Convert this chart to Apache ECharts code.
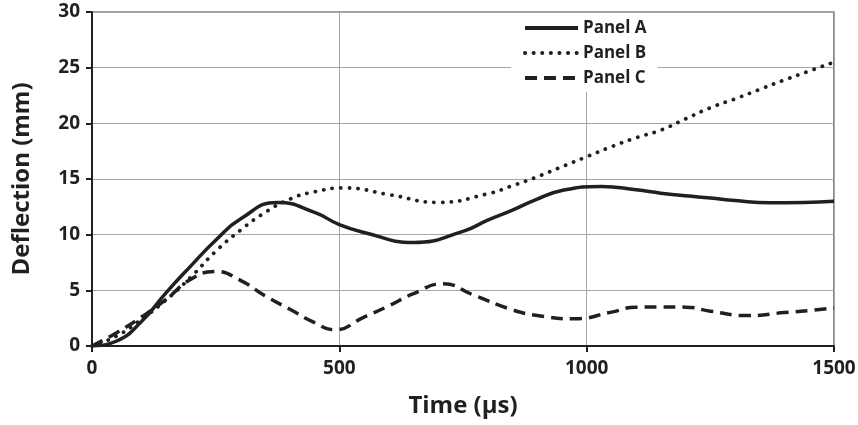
<!DOCTYPE html>
<html><head><meta charset="utf-8">
<script src="https://cdn.jsdelivr.net/npm/echarts@6/dist/echarts.min.js"></script>
<style>html,body{margin:0;padding:0;background:#fff}#c{width:858px;height:425px}</style>
</head><body><div id="c"></div>
<script>
const seriesNames = ['Panel A', 'Panel B', 'Panel C'];
const timeA  = [0, 50, 100, 150, 200, 250, 300, 375, 450, 500, 550, 650, 750, 800, 850, 900, 950, 1030, 1100, 1150, 1200, 1250, 1300, 1370, 1440, 1500];
const panelA = [0, 0.45, 2.2, 4.8, 7.2, 9.5, 11.4, 12.9, 12.0, 10.9, 10.2, 9.3, 10.3, 11.3, 12.2, 13.2, 13.97, 14.33, 14.03, 13.73, 13.49, 13.3, 13.07, 12.87, 12.9, 13.0];
const timeB  = [0, 50, 100, 150, 200, 250, 300, 350, 400, 450, 510, 600, 700, 800, 850, 900, 950, 1000, 1050, 1100, 1150, 1200, 1250, 1300, 1350, 1400, 1450, 1500];
const panelB = [0, 0.9, 2.4, 4.15, 6.2, 8.5, 10.4, 12.0, 13.2, 13.85, 14.2, 13.6, 12.9, 13.67, 14.4, 15.2, 16.1, 17.0, 17.9, 18.7, 19.4, 20.4, 21.4, 22.2, 23.05, 23.9, 24.7, 25.5];
const timeC  = [0, 50, 100, 150, 200, 250, 300, 350, 400, 450, 490, 550, 600, 650, 710, 770, 850, 900, 975, 1050, 1100, 1150, 1200, 1250, 1325, 1400, 1450, 1500];
const panelC = [0, 1.2, 2.6, 4.2, 6.0, 6.7, 5.9, 4.5, 3.3, 2.1, 1.45, 2.6, 3.6, 4.7, 5.6, 4.6, 3.25, 2.74, 2.44, 3.04, 3.49, 3.5, 3.49, 3.13, 2.73, 3.0, 3.19, 3.43];
const xTicks = [0, 500, 1000, 1500];
const yTicks = [0, 5, 10, 15, 20, 25, 30];

const pair = (t, v) => t.map((x, i) => [x, v[i]]);
const ink = '#231f20';
const font = '"Open Sans", Lato, sans-serif';
const chart = echarts.init(document.getElementById('c'), null, {renderer: 'canvas'});
chart.setOption({
  animation: false,
  backgroundColor: '#fff',
  grid: {left: 92, right: 24, top: 12, bottom: 79, show: true, borderColor: '#3a3a3a', borderWidth: 1.2, containLabel: false, outerBoundsMode: 'none'},
  xAxis: {
    type: 'value', min: xTicks[0], max: xTicks[xTicks.length - 1], interval: 500,
    name: 'Time (\u03bcs)', nameLocation: 'middle', nameGap: 48,
    nameTextStyle: {fontFamily: font, fontWeight: 'bold', fontSize: 24, color: ink},
    axisLine: {show: true, onZero: false, lineStyle: {color: ink, width: 2}},
    axisTick: {show: true, length: 6, lineStyle: {color: ink, width: 2}},
    axisLabel: {fontFamily: font, fontWeight: 'bold', fontSize: 19, color: ink, margin: 13, formatter: v => String(v)},
    splitLine: {show: true, lineStyle: {color: '#a6a6a6', width: 1}}
  },
  yAxis: {
    type: 'value', min: yTicks[0], max: yTicks[yTicks.length - 1], interval: 5,
    name: 'Deflection (mm)', nameLocation: 'middle', nameGap: 58, nameRotate: 90,
    nameTextStyle: {fontFamily: font, fontWeight: 'bold', fontSize: 24, color: ink},
    axisLine: {show: true, lineStyle: {color: ink, width: 2}},
    axisTick: {show: true, length: 6, lineStyle: {color: ink, width: 2}},
    axisLabel: {fontFamily: font, fontWeight: 'bold', fontSize: 19, color: ink, margin: 12},
    splitLine: {show: true, lineStyle: {color: '#a6a6a6', width: 1}}
  },
  legend: {
    orient: 'vertical', left: 511, top: 13, itemWidth: 53, itemHeight: 14, itemGap: 7,
    backgroundColor: '#fff', padding: [6, 11, 5, 12],
    itemStyle: {color: 'rgba(0,0,0,0)', borderWidth: 0, opacity: 0},
    lineStyle: {width: 4},
    textStyle: {fontFamily: font, fontWeight: 'bold', fontSize: 17, color: ink, lineHeight: 18},
    data: seriesNames
  },
  series: [
    {name: seriesNames[0], type: 'line', smooth: 0.5, symbol: 'none', data: pair(timeA, panelA),
     lineStyle: {color: ink, width: 3.5}, itemStyle: {color: ink}},
    {name: seriesNames[1], type: 'line', smooth: 0.5, symbol: 'none', data: pair(timeB, panelB),
     lineStyle: {color: ink, width: 3.8, type: [0.1, 8.5], cap: 'round'}, itemStyle: {color: ink}},
    {name: seriesNames[2], type: 'line', smooth: 0.5, symbol: 'none', data: pair(timeC, panelC),
     lineStyle: {color: ink, width: 3.5, type: [12, 7]}, itemStyle: {color: ink}}
  ]
});
</script></body></html>
